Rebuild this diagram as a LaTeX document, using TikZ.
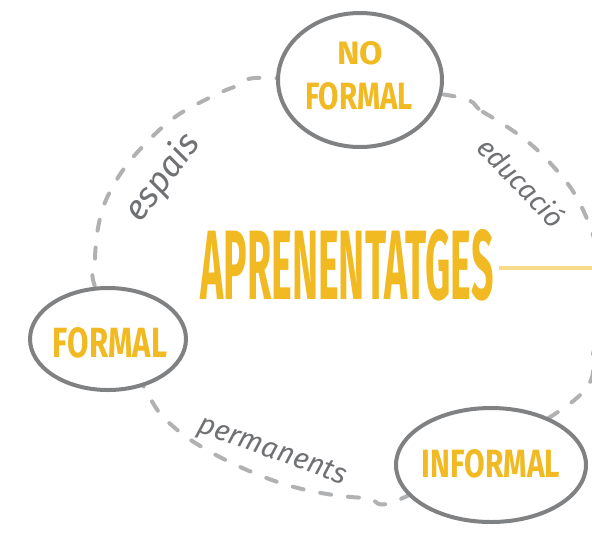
\documentclass[tikz,border=0pt]{standalone}
\usepackage{fontspec}
\usepackage{graphicx}
\setmainfont{Fira Sans}
\usetikzlibrary{shapes.geometric}
\definecolor{yel}{RGB}{242,186,34}
\definecolor{lightyel}{RGB}{248,220,140}
\definecolor{ovalgray}{RGB}{128,129,131}
\definecolor{dashgray}{RGB}{176,177,179}
\definecolor{labgray}{RGB}{112,113,116}
\tikzset{
  oval/.style={ellipse, draw=ovalgray, line width=4pt, fill=white, inner sep=0pt},
  ytext/.style={text=yel, inner sep=0pt, font=\bfseries},
  hand/.style={text=labgray, inner sep=0pt, font=\itshape},
  ring/.style={draw=dashgray, line width=4pt, line cap=round, dash pattern=on 11pt off 17pt},
  link/.style={draw=lightyel, line width=3.5pt}
}
\begin{document}
\begin{tikzpicture}[x=1pt,y=-1pt]
\useasboundingbox (0,0) rectangle (592,558);
% dashed ring
\draw[ring] plot[smooth cycle, tension=0.6] coordinates {
  (447,95) (483,112) (523,138) (552,165) (577,198) (596,245) (604,300) (594,350) (572,402)
  (405,497) (367,498) (327,494) (287,485) (247,470) (207,450) (175,428) (150,398)
  (97,292) (95,260) (98,228) (106,200) (123,170) (147,142) (175,117) (207,99) (237,86) (272,78)};
% ovals
\node[oval, minimum width=164pt, minimum height=134pt] (nf) at (360,80) {};
\node[oval, minimum width=156pt, minimum height=102pt] (f) at (108,339) {};
\node[oval, minimum width=190pt, minimum height=114pt] (inf) at (491,465) {};
% central word and link
\node[ytext] (apr) at (347,265) {\resizebox{293pt}{70pt}{APRENENTATGES}};
\coordinate (edge) at (592,268);
\draw[link] (apr.east |- edge) ++(5pt,0) -- (edge);
% oval labels
\node[ytext] (nft) at (360,53) {\resizebox{46pt}{23pt}{NO}};
\node[ytext] (nft2) at (359,96) {\resizebox{108pt}{27pt}{FORMAL}};
\node[ytext] (ft) at (110,343) {\resizebox{114pt}{30pt}{FORMAL}};
\node[ytext] (inft) at (491,464) {\resizebox{138pt}{28pt}{INFORMAL}};
% handwritten labels
\node[hand, rotate=53] (esp) at (163,178) {\resizebox{100pt}{!}{espais}};
\node[hand, rotate=-46] (edu) at (522,182) {\resizebox{112pt}{!}{educació}};
\node[hand, rotate=-20] (perm) at (272,452) {\resizebox{156pt}{!}{permanents}};
\end{tikzpicture}
\end{document}
